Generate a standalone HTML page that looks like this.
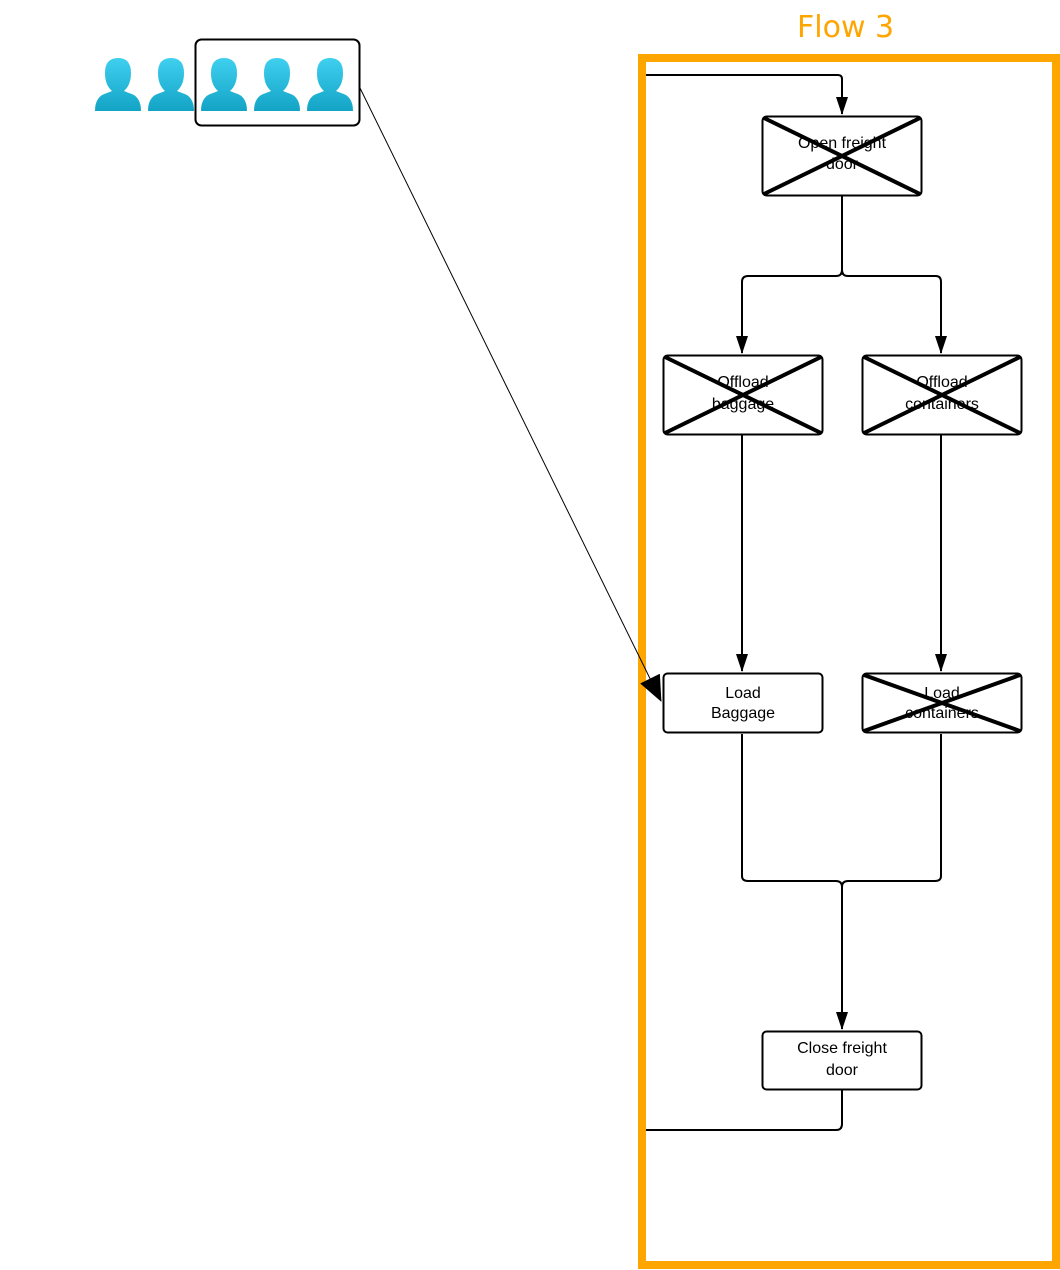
<!DOCTYPE html>
<html><head><meta charset="utf-8">
<style>html,body{margin:0;padding:0;background:#fff;}svg{display:block}</style>
</head><body>
<svg width="1060" height="1270" viewBox="0 0 1060 1270" xmlns="http://www.w3.org/2000/svg">
<defs>
<marker id="ah" markerWidth="12" markerHeight="18" refX="6" refY="17" orient="0" markerUnits="userSpaceOnUse" viewBox="0 0 12 18">
<path d="M0,0 L12,0 L6,18 Z" fill="#000"/>
</marker>
<marker id="big" markerWidth="26" markerHeight="22" refX="25" refY="11" orient="auto" markerUnits="userSpaceOnUse">
<path d="M0,0 L26,11 L0,22 Z" fill="#000"/>
</marker>
<linearGradient id="pg" x1="0" y1="0" x2="0" y2="1">
<stop offset="0" stop-color="#3fd0f0"/><stop offset="1" stop-color="#13a3c5"/>
</linearGradient>
<g id="person">
<path d="M-23,26 Q-23,11 -11,8 L-6,6 Q-13,0 -13,-12 Q-13,-27 0,-27 Q13,-27 13,-12 Q13,0 6,6 L11,8 Q23,11 23,26 Z" fill="url(#pg)"/>
</g>
</defs>
<text x="797" y="37" font-family="DejaVu Sans, sans-serif" font-size="30" fill="#ffa500">Flow 3</text>
<rect x="642" y="58" width="414" height="1207" fill="none" stroke="#ffa500" stroke-width="8"/>

<use href="#person" x="118" y="85"/>
<use href="#person" x="171" y="85"/>
<use href="#person" x="224" y="85"/>
<use href="#person" x="277" y="85"/>
<use href="#person" x="330" y="85"/>
<rect x="195.5" y="39.5" width="164" height="86" rx="6" fill="none" stroke="#000" stroke-width="2"/>

<g fill="none" stroke="#000" stroke-width="2">
<path d="M646,75 H838 Q842,75 842,79 V114" marker-end="url(#ah)"/>
<path d="M842,196 V270 Q842,276 836,276 H748 Q742,276 742,282 V353" marker-end="url(#ah)"/>
<path d="M842,270 Q842,276 848,276 H936 Q941,276 941,282 V353" marker-end="url(#ah)"/>
<path d="M742,435 V671" marker-end="url(#ah)"/>
<path d="M941,435 V671" marker-end="url(#ah)"/>
<path d="M742,734 V876 Q742,881 748,881 H836 Q842,881 842,887 V1029" marker-end="url(#ah)"/>
<path d="M941,734 V876 Q941,881 935,881 H848 Q842,881 842,887"/>
<path d="M842,1090 V1124 Q842,1130 836,1130 H646"/>
</g>
<line x1="360" y1="88" x2="661" y2="701" stroke="#000" stroke-width="1" marker-end="url(#big)"/>

<g font-family="Liberation Sans, sans-serif" font-size="16" text-anchor="middle" fill="#000">
<rect x="762.5" y="116.5" width="159" height="79" rx="4" fill="#fff" stroke="#000" stroke-width="2"/>
<text x="842" y="148">Open freight</text><text x="842" y="169">door</text>
<path d="M764,118 L920,194 M920,118 L764,194" stroke="#000" stroke-width="4"/>

<rect x="663.5" y="355.5" width="159" height="79" rx="4" fill="#fff" stroke="#000" stroke-width="2"/>
<text x="743" y="387">Offload</text><text x="743" y="409">baggage</text>
<path d="M665,357 L821,433 M821,357 L665,433" stroke="#000" stroke-width="4"/>

<rect x="862.5" y="355.5" width="159" height="79" rx="4" fill="#fff" stroke="#000" stroke-width="2"/>
<text x="942" y="387">Offload</text><text x="942" y="409">containers</text>
<path d="M864,357 L1020,433 M1020,357 L864,433" stroke="#000" stroke-width="4"/>

<rect x="663.5" y="673.5" width="159" height="59" rx="4" fill="#fff" stroke="#000" stroke-width="2"/>
<text x="743" y="698">Load</text><text x="743" y="718">Baggage</text>

<rect x="862.5" y="673.5" width="159" height="59" rx="4" fill="#fff" stroke="#000" stroke-width="2"/>
<text x="942" y="698">Load</text><text x="942" y="718">containers</text>
<path d="M864,675 L1020,731 M1020,675 L864,731" stroke="#000" stroke-width="4"/>

<rect x="762.5" y="1031.5" width="159" height="58" rx="4" fill="#fff" stroke="#000" stroke-width="2"/>
<text x="842" y="1053">Close freight</text><text x="842" y="1075">door</text>
</g>
</svg>
</body></html>
